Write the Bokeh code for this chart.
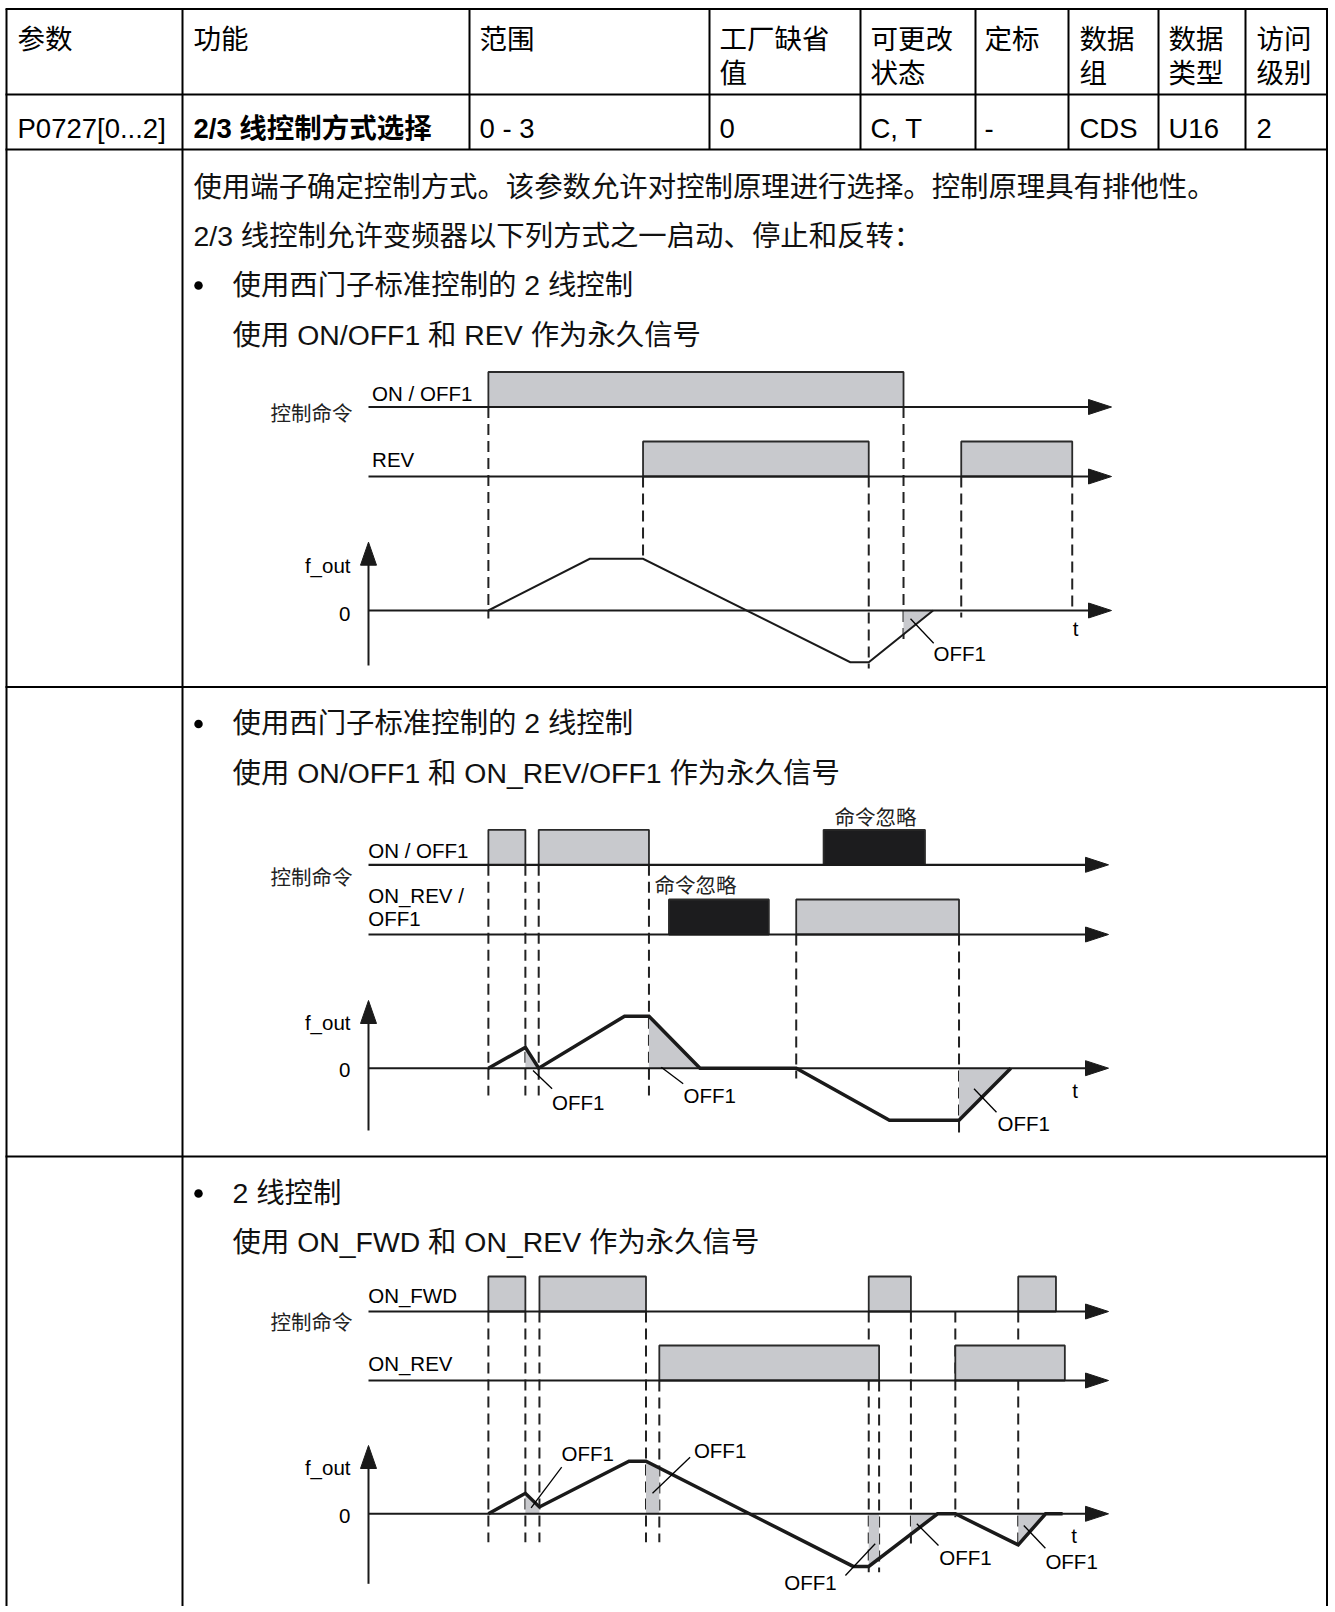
import math
from bokeh.plotting import figure
from bokeh.models import Range1d
from bokeh.core.properties import value
from bokeh.embed import file_html
from bokeh.resources import INLINE

# ---------------------------------------------------------------- data
header_line1 = ["参数", "功能", "范围", "工厂缺省", "可更改", "定标", "数据", "数据", "访问"]
header_line2 = ["", "", "", "值", "状态", "", "组", "类型", "级别"]
param_values = ["P0727[0...2]", "2/3 线控制方式选择", "0 - 3", "0", "C, T", "-", "CDS", "U16", "2"]

intro_lines = ["使用端子确定控制方式。该参数允许对控制原理进行选择。控制原理具有排他性。",
               "2/3 线控制允许变频器以下列方式之一启动、停止和反转："]
bullet_texts = ["使用西门子标准控制的 2 线控制", "使用西门子标准控制的 2 线控制", "2 线控制"]
subtitle_texts = ["使用 ON/OFF1 和 REV 作为永久信号",
                  "使用 ON/OFF1 和 ON_REV/OFF1 作为永久信号",
                  "使用 ON_FWD 和 ON_REV 作为永久信号"]

# time in arbitrary units (0 = f_out axis), f_out normalised (plateau = 1)
# --- diagram 1
d1_a_start, d1_a_end = [16.2], [72.3]                 # ON / OFF1
d1_b_start, d1_b_end = [37.1, 80.1], [67.6, 95.1]     # REV
d1_ft = [16.2, 29.9, 37.1, 65.1, 67.6, 76.3]
d1_f = [0, 1, 1, -1, -1, 0]
d1_off_t = [[72.3, 72.3, 76.3]]
d1_off_f = [[0, -0.46, 0]]
d1_events = [16.2, 37.1, 67.6, 72.3, 80.1, 95.1]

# --- diagram 2
d2_a_start, d2_a_end = [16.2, 23.0], [21.2, 37.9]     # ON / OFF1
d2_a_ign_start, d2_a_ign_end = [61.5], [75.2]
d2_b_start, d2_b_end = [57.8], [79.8]                 # ON_REV / OFF1
d2_b_ign_start, d2_b_ign_end = [40.6], [54.1]
d2_ft = [16.2, 21.2, 23.0, 34.6, 37.9, 44.8, 57.8, 70.4, 79.8, 86.8]
d2_f = [0, 0.4, 0, 1, 1, 0, 0, -1, -1, 0]
d2_off_t = [[21.2, 21.2, 23.0], [37.9, 37.9, 44.8], [79.8, 79.8, 86.8]]
d2_off_f = [[0, 0.4, 0], [0, 1, 0], [0, -1, 0]]
d2_events = [16.2, 21.2, 23.0, 37.9, 57.8, 79.8]

# --- diagram 3
d3_a_start, d3_a_end = [16.2, 23.1, 67.6, 87.8], [21.2, 37.5, 73.3, 92.9]   # ON_FWD
d3_b_start, d3_b_end = [39.3, 79.3], [69.0, 94.1]                           # ON_REV
d3_ft = [16.2, 21.2, 23.1, 35.2, 37.5, 65.5, 67.6, 76.9, 79.3, 87.8, 91.5, 93.8]
d3_f = [0, 0.39, 0.13, 1, 1, -1, -1, 0, 0, -0.59, 0, 0]
d3_off_t = [[21.2, 21.2, 23.1, 23.1], [37.5, 37.5, 39.3, 39.3], [67.6, 67.6, 69.0, 69.0],
            [73.3, 73.3, 76.9], [87.8, 87.8, 91.5]]
d3_off_f = [[0, 0.39, 0.13, 0], [0, 1, 0.87, 0], [0, -1, -0.85, 0],
            [0, -0.39, 0], [0, -0.59, 0]]
d3_events = [16.2, 21.2, 23.1, 37.5, 39.3, 67.6, 69.0, 73.3, 79.3, 87.8]

# ---------------------------------------------------------------- layout
W, H = 1335, 1606
OX, OY = 0, 0
T_ORIGIN_PX, T_PX = 368, 7.4
FONT = "'Liberation Sans', 'Noto Sans CJK SC', sans-serif"
GRAY = "#c8c9cd"
BLACKFILL = "#1c1c1e"
INK = "#1a1a1a"

ROWS = {
    "d1a": (406.5, 35), "d1b": (476, 35), "d1f": (610, 51.7),
    "d2a": (864.3, 35), "d2b": (934, 35), "d2f": (1067.7, 52),
    "d3a": (1311, 35), "d3b": (1380, 35), "d3f": (1513.3, 52.6),
}


def yrange(zero_px, ppu):
    end = (zero_px - OY) / ppu
    return Range1d(start=end - H / ppu, end=end)


p = figure(width=W, height=H, output_backend="svg", toolbar_location=None,
           x_range=Range1d(OX, OX + W), y_range=Range1d(OY + H, OY),
           min_border=0, min_border_left=0, min_border_right=0,
           min_border_top=0, min_border_bottom=0)
p.axis.visible = False
p.grid.visible = False
p.outline_line_color = None
p.background_fill_color = "white"
p.border_fill_color = "white"
t0 = -(T_ORIGIN_PX - OX) / T_PX
p.extra_x_ranges = {"t": Range1d(start=t0, end=t0 + W / T_PX)}
p.extra_y_ranges = {k: yrange(*v) for k, v in ROWS.items()}


def txt(x, y, s, size, align="left", bold=False, color="#000"):
    p.text(x=[x], y=[y], text=[s], text_font=value(FONT), text_font_size=size,
           text_align=align, text_baseline="middle",
           text_font_style="bold" if bold else "normal", text_color=color)


def seg(x0, y0, x1, y1, w=2, color="#000", dash="solid"):
    p.segment(x0=[x0], y0=[y0], x1=[x1], y1=[y1], line_width=w,
              line_color=color, line_dash=dash)


# ---------------------------------------------------------------- table
TL, TR, TT = 6, 1326.5, 8.5
BOTTOM = OY + H
for y in [TT, 94, 149, 686.5, 1156]:
    seg(TL - 1, y, TR + 1, y)
for x in [TL, 182, TR]:
    seg(x, TT, x, BOTTOM)
for x in [469, 709, 860, 975, 1068, 1158, 1245]:
    seg(x, TT, x, 149)

col_text_x = [17, 193, 479, 719, 870, 984, 1079, 1168, 1256]
for x, a, b, v in zip(col_text_x, header_line1, header_line2, param_values):
    txt(x, 39, a, "27.5px")
    if b:
        txt(x, 72.5, b, "27.5px")
    txt(x, 128, v, "27.5px", bold=(v == param_values[1]))

BODY = "28.4px"
txt(193, 186, intro_lines[0], BODY, color="#111")
txt(193, 235, intro_lines[1], BODY, color="#111")
for y_b, y_s, b, s in zip([284, 722.5, 1192], [334, 772, 1241.5], bullet_texts, subtitle_texts):
    p.scatter(x=[198], y=[y_b + 1], marker="circle", size=8.5,
              fill_color="#000", line_color=None)
    txt(232, y_b, b, BODY, color="#111")
    txt(232, y_s, s, BODY, color="#111")

# ---------------------------------------------------------------- diagrams
AX_X = 368
LINE_END = 1090


def right_arrow(y, tip):
    p.patch(x=[tip - 23, tip, tip - 23], y=[y - 7.5, y, y + 7.5],
            fill_color=INK, line_color=INK, line_width=1)


def up_arrow(x, tip):
    p.patch(x=[x - 8, x, x + 8], y=[tip + 23, tip, tip + 23],
            fill_color=INK, line_color=INK, line_width=1)


def pulses(row, starts, ends, fill):
    p.quad(left=starts, right=ends, bottom=0, top=1, x_range_name="t", y_range_name=row,
           fill_color=fill, line_color="#2a2a2a", line_width=1.8)


def diagram(key, sig_rows, events, dash_spans, ft, f, off_t, off_f, curve_w,
            axis_tip, axis_bottom, tip_x):
    # dashed event lines
    for t, (ya, yb) in zip(events, dash_spans):
        p.segment(x0=[t], y0=[ya], x1=[t], y1=[yb], x_range_name="t",
                  line_width=2, line_color="#222", line_dash="11 6")
    # signal rows
    for row, groups in sig_rows:
        for starts, ends, fill in groups:
            pulses(row, starts, ends, fill)
        y = ROWS[row][0]
        seg(AX_X, y, LINE_END, y, w=2.2, color=INK)
        right_arrow(y, tip_x)
    # f_out
    frow = key + "f"
    p.patches(xs=off_t, ys=off_f, x_range_name="t", y_range_name=frow,
              fill_color=GRAY, line_color=None)
    zy = ROWS[frow][0]
    seg(AX_X, zy, LINE_END, zy, w=2, color=INK)
    right_arrow(zy, tip_x)
    seg(AX_X, axis_bottom, AX_X, axis_tip + 10, w=2, color=INK)
    up_arrow(AX_X, axis_tip)
    p.line(ft, f, x_range_name="t", y_range_name=frow, line_width=curve_w,
           line_color=INK, line_join="miter")


LAB = "20.5px"

# ---- diagram 1
diagram("d1",
        [("d1a", [(d1_a_start, d1_a_end, GRAY)]),
         ("d1b", [(d1_b_start, d1_b_end, GRAY)])],
        d1_events,
        [(406.5, 618), (476, 558), (476, 668), (406.5, 642), (476, 617), (476, 610)],
        d1_ft, d1_f, d1_off_t, d1_off_f, 2.0, 541.7, 665, 1111)
txt(371.6, 393, "ON / OFF1", LAB)
txt(371.6, 459, "REV", LAB)
txt(352, 413, "控制命令", LAB, align="right", color="#222")
txt(350, 565, "f_out", LAB, align="right")
txt(350, 613, "0", LAB, align="right")
txt(1075, 628, "t", LAB, align="center")
seg(910, 618.3, 933.2, 642.7, w=1.3)
txt(933, 653, "OFF1", LAB)

# ---- diagram 2
diagram("d2",
        [("d2a", [(d2_a_start, d2_a_end, GRAY), (d2_a_ign_start, d2_a_ign_end, BLACKFILL)]),
         ("d2b", [(d2_b_start, d2_b_end, GRAY), (d2_b_ign_start, d2_b_ign_end, BLACKFILL)])],
        d2_events,
        [(864.3, 1095), (864.3, 1095), (864.3, 1095), (864.3, 1095), (934, 1078), (934, 1135)],
        d2_ft, d2_f, d2_off_t, d2_off_f, 3.5, 1000, 1130, 1108)
txt(367.7, 850, "ON / OFF1", LAB)
txt(352, 877, "控制命令", LAB, align="right", color="#222")
txt(367.7, 895, "ON_REV /", LAB)
txt(367.7, 918.3, "OFF1", LAB)
txt(834, 817, "命令忽略", LAB, color="#222")
txt(654, 885, "命令忽略", LAB, color="#222")
txt(350, 1021.7, "f_out", LAB, align="right")
txt(350, 1069.3, "0", LAB, align="right")
txt(1074.7, 1090, "t", LAB, align="center")
seg(532.5, 1070, 551.6, 1088.3, w=1.3)
txt(551.6, 1101.7, "OFF1", LAB)
seg(660.8, 1066.7, 682.7, 1083.3, w=1.3)
txt(683, 1095, "OFF1", LAB)
seg(973.5, 1088.3, 996, 1111.7, w=1.3)
txt(997, 1123.3, "OFF1", LAB)

# ---- diagram 3
diagram("d3",
        [("d3a", [(d3_a_start, d3_a_end, GRAY)]),
         ("d3b", [(d3_b_start, d3_b_end, GRAY)])],
        d3_events,
        [(1311, 1541.7), (1311, 1541.7), (1311, 1541.7), (1311, 1541.7), (1380, 1541.7),
         (1311, 1571.7), (1380, 1571.7), (1311, 1543.3), (1311, 1516.7), (1311, 1543.3)],
        d3_ft, d3_f, d3_off_t, d3_off_f, 3.5, 1445, 1583.3, 1108)
txt(367.7, 1295, "ON_FWD", LAB)
txt(352, 1321.7, "控制命令", LAB, align="right", color="#222")
txt(367.7, 1363.3, "ON_REV", LAB)
txt(350, 1466.7, "f_out", LAB, align="right")
txt(350, 1515, "0", LAB, align="right")
txt(1073.5, 1534.7, "t", LAB, align="center")
seg(530.6, 1507.3, 561.2, 1466.7, w=1.3)
txt(561, 1453.3, "OFF1", LAB)
seg(652, 1492.7, 689.6, 1456.7, w=1.3)
txt(693.4, 1450, "OFF1", LAB)
seg(844.9, 1575, 874.7, 1543.3, w=1.3)
txt(783.7, 1581.7, "OFF1", LAB)
seg(916.3, 1523.3, 938, 1545, w=1.3)
txt(938.8, 1556.7, "OFF1", LAB)
seg(1023.3, 1525, 1044.9, 1547.7, w=1.3)
txt(1044.9, 1561, "OFF1", LAB)

open("out.html", "w").write(file_html(p, INLINE))
